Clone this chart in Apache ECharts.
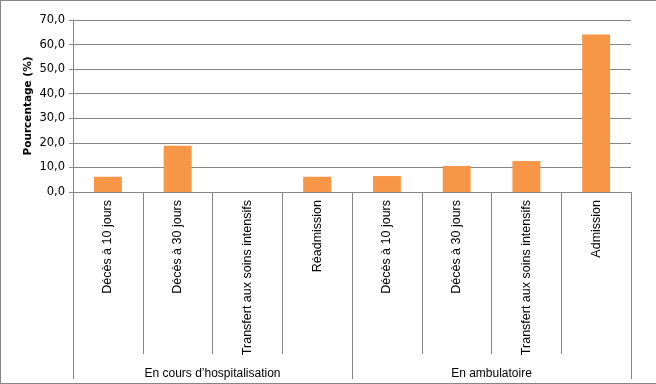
<!DOCTYPE html>
<html><head><meta charset="utf-8">
<script src="https://cdn.jsdelivr.net/npm/echarts@6/dist/echarts.min.js"></script>
<style>
html,body{margin:0;padding:0;background:#fff;}
#c{width:656px;height:384px;box-sizing:border-box;border-left:1px solid #868686;border-top:1px solid #868686;border-bottom:1px solid #868686;}
</style></head>
<body><div id="c"></div>
<script>
const categories = ["Décès à 10 jours","Décès à 30 jours","Transfert aux soins intensifs","Réadmission","Décès à 10 jours","Décès à 30 jours","Transfert aux soins intensifs","Admission"];
const groups = ["En cours d\u2019hospitalisation","En ambulatoire"];
const values = [6.2, 18.8, 0, 6.2, 6.5, 10.6, 12.6, 64.1];
const yTicks = {min:0, max:70, interval:10};

const chart = echarts.init(document.getElementById('c'), null, {renderer:'canvas'});
const gray = '#868686';
chart.setOption({
  animation:false,
  grid:{left:72, right:25, top:19, bottom:191, containLabel:false},
  xAxis:[{
    type:'category', data:categories, position:'bottom',
    axisLine:{show:true, lineStyle:{color:gray, width:1}},
    axisTick:{show:true, length:162, lineStyle:{color:gray}},
    axisLabel:{rotate:90, margin:8, interval:0, color:'#000', fontFamily:'Liberation Sans', fontSize:12.5},
    splitLine:{show:false}
  },{
    type:'category', data:groups, position:'bottom',
    axisLine:{show:false},
    axisTick:{show:true, length:187, lineStyle:{color:gray}},
    axisLabel:{margin:176, interval:0, color:'#000', fontFamily:'Liberation Sans', fontSize:12},
    splitLine:{show:false}
  }],
  yAxis:{
    type:'value', min:yTicks.min, max:yTicks.max, interval:yTicks.interval,
    name:'Pourcentage (%)', nameLocation:'middle', nameGap:39, nameRotate:90, nameMoveOverlap:false,
    nameTextStyle:{fontWeight:'bold', fontFamily:'DejaVu Sans', fontSize:10.5, color:'#000'},
    axisLine:{show:true, lineStyle:{color:gray}},
    axisTick:{show:true, length:4, lineStyle:{color:gray}},
    axisLabel:{margin:8, color:'#000', fontFamily:'DejaVu Sans', fontSize:11.5,
      formatter:v=>v.toFixed(1).replace('.',',')},
    splitLine:{show:true, lineStyle:{color:gray, width:1}}
  },
  series:[{
    type:'bar', data:values, xAxisIndex:0, barCategoryGap:'60%',
    itemStyle:{color:'#F79646'}
  }]
});
</script></body></html>
